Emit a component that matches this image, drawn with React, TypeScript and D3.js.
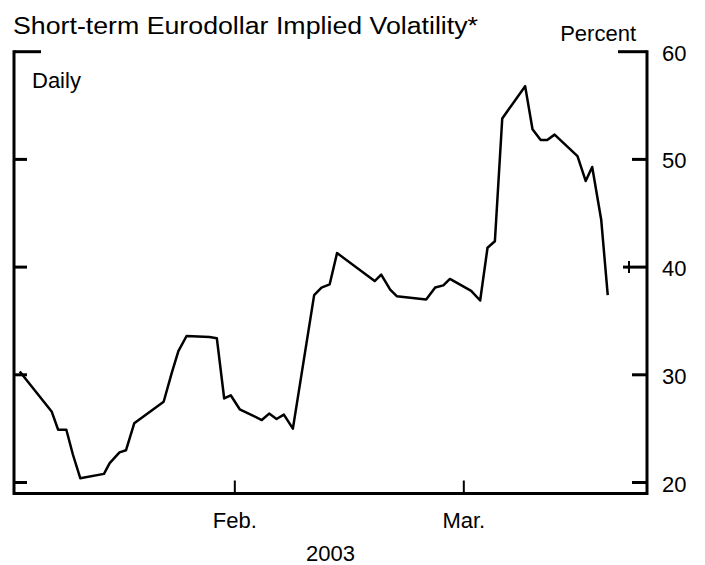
import * as d3 from 'd3'

// day number counted from Jan 1, 2003 (Feb 1 = 31, Mar 1 = 59)
const days = [
  4.7, 8.6, 9.4, 10.4, 11.2, 12.1, 15.0, 15.7, 16.9, 17.7, 18.7, 22.3, 23.3,
  24.1, 25.1, 27.9, 28.8, 29.7, 30.5, 31.6, 34.3, 35.2, 36.1, 37.0, 38.1,
  40.7, 41.6, 42.6, 43.5, 48.1, 48.9, 50.0, 50.8, 54.4, 55.5, 56.5, 57.3,
  59.9, 61.0, 61.9, 62.8, 63.7, 66.5, 67.4, 68.4, 69.2, 70.1, 72.9, 73.9,
  74.7, 75.8, 76.6
]
const vol = [
  30.3, 26.6, 24.9, 24.9, 22.6, 20.4, 20.8, 21.8, 22.8, 23.0, 25.5, 27.5, 30.2,
  32.2, 33.6, 33.5, 33.4, 27.8, 28.1, 26.8, 25.8, 26.4, 25.9, 26.3, 25.0,
  37.4, 38.1, 38.4, 41.3, 38.7, 39.3, 37.9, 37.3, 37.0, 38.1, 38.3, 38.9,
  37.8, 36.9, 41.8, 42.4, 53.8, 56.8, 52.8, 51.8, 51.8, 52.3, 50.3, 48.0,
  49.3, 44.4, 37.4
]

const monthTicks = [31, 59]
const monthLabels = ['Feb.', 'Mar.']
const yTicks = [20, 30, 40, 50, 60]

const font = 'Liberation Sans, Arial, Helvetica, sans-serif'

const App = () => {
  const left = 14
  const right = 647
  const top = 51.7
  const bottom = 493.5

  const xScale = d3.scaleLinear().domain([4, 81.4]).range([left, right])
  const yScale = d3.scaleLinear().domain([20, 60]).range([482.5, top])

  const points = days.map((d, i) => ({ d, v: vol[i] }))
  const line = d3.line<{ d: number; v: number }>()
    .x(p => xScale(p.d))
    .y(p => yScale(p.v))

  const leftLen = (t: number) => (t === 60 ? 27 : 13)
  const rightLen = (t: number) => (t === 60 ? 29 : t === 40 ? 24 : 15)

  return (
    <svg width={705} height={565} style={{ position: 'absolute', left: 0, top: 0 }} fontFamily={font}>
      <rect width={705} height={565} fill="white" />

      <text x={13} y={34} fontSize={23} textLength={465} lengthAdjust="spacingAndGlyphs" fill="black">
        Short-term Eurodollar Implied Volatility*
      </text>
      <text x={636} y={41} fontSize={22} textAnchor="end" fill="black">Percent</text>
      <text x={32} y={88} fontSize={22} fill="black">Daily</text>

      {/* frame */}
      <line x1={left} x2={left} y1={top - 1.5} y2={bottom + 1.5} stroke="black" strokeWidth={3} />
      <line x1={right} x2={right} y1={top - 1.5} y2={bottom + 1.5} stroke="black" strokeWidth={3} />
      <line x1={left} x2={right} y1={bottom} y2={bottom} stroke="black" strokeWidth={3} />

      {yTicks.map(t => (
        <g key={t}>
          <line x1={left} x2={left + leftLen(t)} y1={yScale(t)} y2={yScale(t)} stroke="black" strokeWidth={3} />
          <line x1={right - rightLen(t)} x2={right} y1={yScale(t)} y2={yScale(t)} stroke="black" strokeWidth={3} />
          <text x={662} y={yScale(t) + 9} fontSize={22} fill="black">{t}</text>
        </g>
      ))}
      {/* small cross mark on the 40 tick */}
      <line x1={629} x2={629} y1={yScale(40) - 6} y2={yScale(40) + 6} stroke="black" strokeWidth={2} />

      {monthTicks.map((m, i) => (
        <g key={m}>
          <line x1={xScale(m)} x2={xScale(m)} y1={bottom} y2={bottom - 13} stroke="black" strokeWidth={2} />
          <text x={xScale(m)} y={528} fontSize={22} textAnchor="middle" fill="black">{monthLabels[i]}</text>
        </g>
      ))}
      <text x={(left + right) / 2} y={561} fontSize={22} textAnchor="middle" fill="black">2003</text>

      <path d={line(points) || ''} fill="none" stroke="black" strokeWidth={2.5} strokeLinejoin="round" />
    </svg>
  )
}

export default App
